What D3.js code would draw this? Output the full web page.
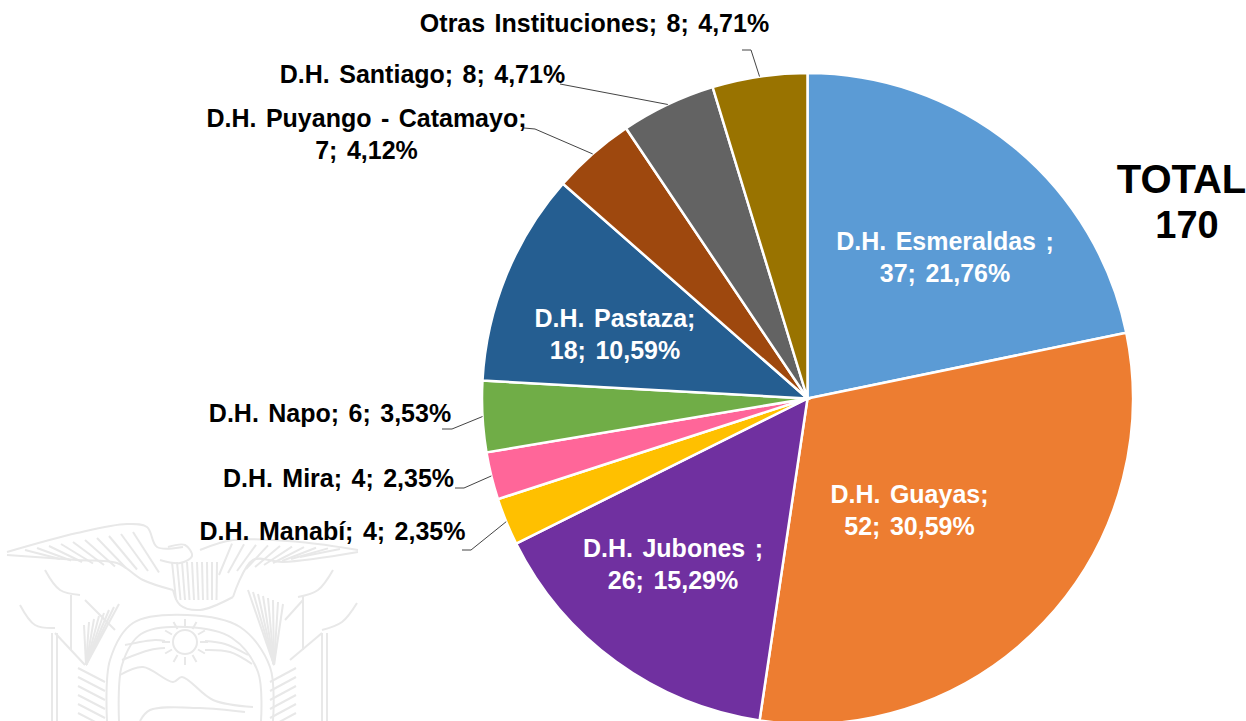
<!DOCTYPE html>
<html>
<head>
<meta charset="utf-8">
<script src="https://d3js.org/d3.v7.min.js"></script>
<style>
  html, body { margin: 0; padding: 0; background: #fff; }
  svg { display: block; }
  text { font-family: "Liberation Sans", Arial, sans-serif; font-weight: bold; font-size: 25px; word-spacing: 2.5px; }
</style>
</head>
<body>
<svg width="1246" height="721"></svg>
<script>
var names = ["D.H. Esmeraldas ;", "D.H. Guayas;", "D.H. Jubones ;", "D.H. Manabí;", "D.H. Mira;", "D.H. Napo;", "D.H. Pastaza;", "D.H. Puyango - Catamayo;", "D.H. Santiago;", "Otras Instituciones;"];
var counts = [37, 52, 26, 4, 4, 6, 18, 7, 8, 8];
var percents = ["21,76%", "30,59%", "15,29%", "2,35%", "2,35%", "3,53%", "10,59%", "4,12%", "4,71%", "4,71%"];
var colors = ["#5b9bd5", "#ed7d31", "#7030a0", "#ffc000", "#ff6699", "#70ad47", "#255e91", "#9e480e", "#636363", "#997300"];

var width = 1246, height = 721;
var cx = 807.5, cy = 398.5, radius = 325.5;

var svg = d3.select("svg");

// faint coat of arms behind the chart
var emblem = svg.append("g").attr("class", "emblem")
  .attr("fill", "none").attr("stroke", "#e8e8e8").attr("stroke-width", 2);
var curve = d3.line().curve(d3.curveCatmullRom);
var straight = d3.line();

var emblemCurves = [
  [[7,552],[77,533],[127,524],[147,527],[157,547],[183,547]],
  [[7,555],[77,560],[117,563],[143,580],[173,590]],
  [[200,550],[233,540],[300,542],[358,550]],
  [[358,552],[283,562],[253,560],[233,597]],
  [[168,547],[185,545],[192,556],[180,563],[160,560]],
  [[173,590],[180,605],[200,610],[233,597]],
  [[107,721],[110,660],[133,623],[187,615],[240,627],[270,667],[273,721]],
  [[119,721],[122,665],[141,634],[187,627],[232,638],[258,672],[261,721]],
  [[125,645],[155,640],[165,641]],
  [[205,641],[225,644],[248,655]],
  [[122,660],[150,650],[165,648]],
  [[205,650],[230,652],[252,664]],
  [[120,675],[143,667],[173,682],[182,677],[213,700],[253,707]],
  [[140,721],[150,710],[200,708],[245,712]],
  [[20,605],[35,625],[55,628]],
  [[45,570],[60,590],[80,595]],
  [[333,570],[318,590],[298,597]],
  [[357,603],[342,622],[322,630]]
];
emblemCurves.forEach(function (pts) {
  emblem.append("path").attr("d", curve(pts));
});

var emblemLines = [
  [[52,633],[52,721]], [[57,633],[57,721]],
  [[71,595],[71,650]],
  [[322,633],[322,721]], [[327,633],[327,721]],
  [[303,595],[303,650]],
  [[55,633],[85,665]], [[85,600],[115,630]],
  [[322,633],[290,660]], [[303,600],[285,620]]
];
emblemLines.forEach(function (pts) {
  emblem.append("path").attr("d", straight(pts));
});

// wing feathers and body
d3.range(0, 10).forEach(function (i) {
  emblem.append("line").attr("x1", 25 + i * 12).attr("y1", 550 - i * 2).attr("x2", 60 + i * 11).attr("y2", 559 + i * 1.5);
  emblem.append("line").attr("x1", 340 - i * 12).attr("y1", 549 - i * 0.6).attr("x2", 300 - i * 9).attr("y2", 557 + i * 2);
  emblem.append("line").attr("x1", 172 + i * 5).attr("y1", 562).attr("x2", 176 + i * 4.5).attr("y2", 600);
});

// sun
emblem.append("circle").attr("cx", 185).attr("cy", 642).attr("r", 12);
d3.range(0, 360, 30).forEach(function (a) {
  var t = a * Math.PI / 180;
  emblem.append("line")
    .attr("x1", 185 + 15 * Math.cos(t)).attr("y1", 642 + 15 * Math.sin(t))
    .attr("x2", 185 + 23 * Math.cos(t)).attr("y2", 642 + 23 * Math.sin(t));
});

// hatching on the draped flags, palm and laurel
d3.range(0, 7).forEach(function (i) {
  emblem.append("line").attr("x1", 78).attr("y1", 668 + i * 9).attr("x2", 105).attr("y2", 682 + i * 9);
  emblem.append("line").attr("x1", 270).attr("y1", 682 + i * 9).attr("x2", 296).attr("y2", 668 + i * 9);
});
d3.range(0, 8).forEach(function (i) {
  emblem.append("line").attr("x1", 274).attr("y1", 665).attr("x2", 248 + i * 5).attr("y2", 590 + i * 2);
  emblem.append("line").attr("x1", 86).attr("y1", 665).attr("x2", 84 + i * 5).attr("y2", 625 - i * 3);
});

// pie
var pie = d3.pie().value(function (d) { return d; }).sort(null);
var arc = d3.arc().innerRadius(0).outerRadius(radius);
var arcs = pie(counts);

var chart = svg.append("g").attr("transform", "translate(" + cx + "," + cy + ")");
chart.selectAll("path")
  .data(arcs)
  .enter()
  .append("path")
  .attr("d", arc)
  .attr("fill", function (d, i) { return colors[i]; })
  .attr("stroke", "#fff")
  .attr("stroke-width", 2.5);

// label placement, one entry per slice: centre x, first baseline y, line break, white?, leader start
var labelLayout = [
  { x: 945, y: 250, split: true, inside: true },
  { x: 909.5, y: 503, split: true, inside: true },
  { x: 673, y: 557, split: true, inside: true },
  { x: 332.5, y: 540, split: false, leader: [462, 550, 471, 550] },
  { x: 338.5, y: 487, split: false, leader: [455, 488, 464, 488] },
  { x: 330, y: 422, split: false, leader: [442, 429, 452, 429] },
  { x: 615, y: 327, split: true, inside: true },
  { x: 366.5, y: 127, split: true, leader: [524, 128, 535, 129] },
  { x: 422.5, y: 83, split: false, leader: [560, 84, 560, 84] },
  { x: 594.5, y: 32, split: false, leader: [742, 50, 751, 50] }
];

arcs.forEach(function (d, i) {
  var l = labelLayout[i];
  var tail = counts[i] + "; " + percents[i];
  var lines = l.split ? [names[i], tail] : [names[i] + " " + tail];
  lines.forEach(function (s, k) {
    svg.append("text")
      .attr("x", l.x)
      .attr("y", l.y + k * 32)
      .attr("text-anchor", "middle")
      .attr("fill", l.inside ? "#fff" : "#000")
      .text(s);
  });
  if (l.leader) {
    var mid = (d.startAngle + d.endAngle) / 2;
    var ex = cx + radius * Math.sin(mid);
    var ey = cy - radius * Math.cos(mid);
    svg.append("path")
      .attr("d", straight([[l.leader[0], l.leader[1]], [l.leader[2], l.leader[3]], [ex, ey]]))
      .attr("fill", "none")
      .attr("stroke", "#444")
      .attr("stroke-width", 1);
  }
});

// total box
svg.append("text").attr("x", 1181.5).attr("y", 193).attr("text-anchor", "middle")
  .style("font-size", "40px").text("TOTAL");
svg.append("text").attr("x", 1187).attr("y", 238).attr("text-anchor", "middle")
  .style("font-size", "38px").text("170");
</script>
</body>
</html>
